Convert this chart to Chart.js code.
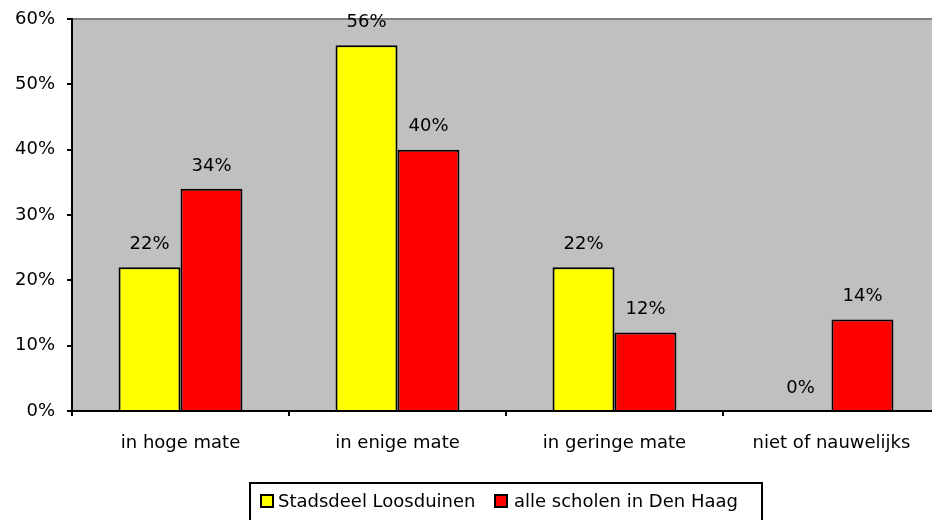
<!DOCTYPE html>
<html>
<head>
<meta charset="utf-8">
<script src="https://cdn.jsdelivr.net/npm/chart.js@4"></script>
<style>
html,body{margin:0;padding:0;background:#fff;overflow:hidden;}
#wrap{width:932px;height:520px;overflow:hidden;position:relative;}
#c{display:block;}
</style>
</head>
<body>
<div id="wrap"><canvas id="c" width="940" height="520" style="width:940px;height:520px"></canvas></div>
<script>
const categories = ['in hoge mate', 'in enige mate', 'in geringe mate', 'niet of nauwelijks'];
const seriesNames = ['Stadsdeel Loosduinen', 'alle scholen in Den Haag'];
const loosduinen = [22, 56, 22, 0];
const denHaag = [34, 40, 12, 14];
const yTicks = [0, 10, 20, 30, 40, 50, 60];
const colors = ['#FFFF00', '#FF0000'];

const FONT = 'DejaVu Sans';
const FS = 18;

const bgPlugin = {
  id: 'bg',
  beforeDraw(chart) {
    const {ctx, chartArea: a} = chart;
    ctx.save();
    ctx.fillStyle = '#fff';
    ctx.fillRect(0, 0, chart.width, chart.height);
    ctx.fillStyle = '#C0C0C0';
    ctx.fillRect(a.left, a.top, a.right - a.left, a.bottom - a.top);
    ctx.strokeStyle = '#808080';
    ctx.lineWidth = 2;
    ctx.beginPath();
    ctx.moveTo(a.left, a.top);
    ctx.lineTo(a.right, a.top);
    ctx.lineTo(a.right, a.bottom);
    ctx.stroke();
    ctx.restore();
  }
};

const labelPlugin = {
  id: 'vals',
  afterDatasetsDraw(chart) {
    const {ctx} = chart;
    ctx.save();
    ctx.font = FS + 'px "' + FONT + '"';
    ctx.fillStyle = '#000';
    ctx.textAlign = 'center';
    ctx.textBaseline = 'middle';
    chart.data.datasets.forEach((ds, i) => {
      chart.getDatasetMeta(i).data.forEach((bar, j) => {
        ctx.fillText(ds.data[j] + '%', bar.x, bar.y - 23);
      });
    });
    ctx.restore();
  }
};

const legendPlugin = {
  id: 'customLegend',
  afterDraw(chart) {
    const {ctx} = chart;
    ctx.save();
    ctx.strokeStyle = '#000';
    ctx.lineWidth = 2;
    ctx.strokeRect(250, 483, 512, 45);
    ctx.font = FS + 'px "' + FONT + '"';
    ctx.textBaseline = 'middle';
    ctx.textAlign = 'left';
    const items = [{x: 261, tx: 278}, {x: 495, tx: 514}];
    chart.data.datasets.forEach((ds, i) => {
      const it = items[i];
      ctx.fillStyle = ds.backgroundColor;
      ctx.fillRect(it.x, 495, 12, 12);
      ctx.lineWidth = 2;
      ctx.strokeRect(it.x, 495, 12, 12);
      ctx.fillStyle = '#000';
      ctx.fillText(ds.label, it.tx, 502);
    });
    ctx.restore();
  }
};

new Chart(document.getElementById('c'), {
  type: 'bar',
  data: {
    labels: categories,
    datasets: [
      {label: seriesNames[0], data: loosduinen, backgroundColor: colors[0], borderColor: '#000', borderWidth: 2},
      {label: seriesNames[1], data: denHaag, backgroundColor: colors[1], borderColor: '#000', borderWidth: 2}
    ]
  },
  options: {
    responsive: false,
    animation: false,
    devicePixelRatio: 1,
    layout: {padding: {top: 19, right: 0, bottom: 0, left: 0}},
    datasets: {bar: {barPercentage: 1, categoryPercentage: 0.571}},
    plugins: {legend: {display: false}, tooltip: {enabled: false}},
    scales: {
      x: {
        offset: true,
        grid: {display: true, offset: true, drawOnChartArea: false, drawTicks: true, tickLength: 5, color: '#000', lineWidth: 2},
        border: {display: true, color: '#000', width: 2},
        ticks: {font: {family: FONT, size: FS}, color: '#000', padding: 17, maxRotation: 0},
        afterFit(s) { s.height = 109; }
      },
      y: {
        min: 0, max: 60,
        afterBuildTicks(s) { s.ticks = yTicks.map(v => ({value: v})); },
        grid: {display: true, drawOnChartArea: false, drawTicks: true, tickLength: 5, color: '#000', lineWidth: 2},
        border: {display: true, color: '#000', width: 2},
        ticks: {font: {family: FONT, size: FS}, color: '#000', padding: 12, callback: v => v + '%'},
        afterFit(s) { s.width = 72; s.paddingTop = 10; s.paddingBottom = 10; }
      }
    }
  },
  plugins: [bgPlugin, labelPlugin, legendPlugin]
});
</script>
</body>
</html>
